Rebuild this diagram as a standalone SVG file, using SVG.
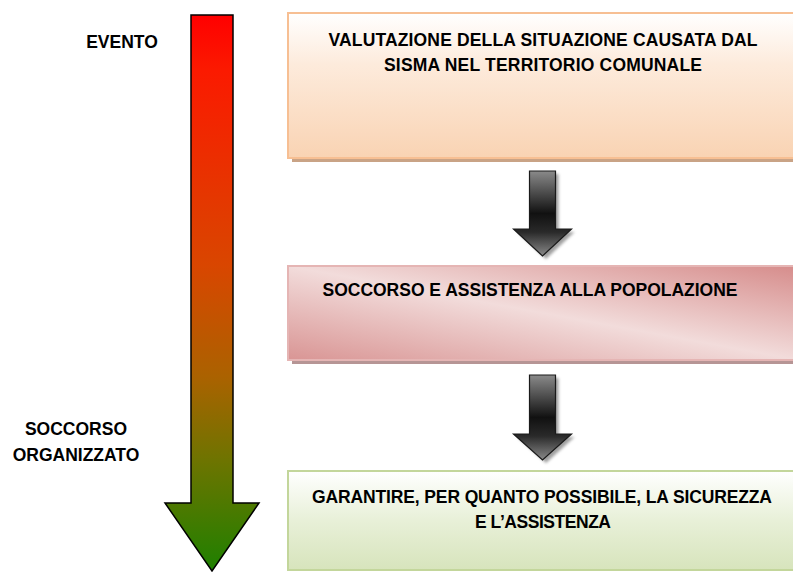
<svg xmlns="http://www.w3.org/2000/svg" width="793" height="572" viewBox="0 0 793 572">
<defs>
<linearGradient id="gBig" x1="0" y1="15" x2="0" y2="571" gradientUnits="userSpaceOnUse">
<stop offset="0" stop-color="#ff0000"/>
<stop offset="0.1" stop-color="#fb1a00"/>
<stop offset="0.45" stop-color="#d94600"/>
<stop offset="0.65" stop-color="#ab6200"/>
<stop offset="0.8" stop-color="#6e7400"/>
<stop offset="1" stop-color="#1e8000"/>
</linearGradient>
<linearGradient id="gSmall" x1="0" y1="0" x2="0" y2="1">
<stop offset="0" stop-color="#8a8a8a"/>
<stop offset="0.5" stop-color="#111111"/>
<stop offset="0.72" stop-color="#2a2a2a"/>
<stop offset="1" stop-color="#8a8a8a"/>
</linearGradient>
<linearGradient id="gOrange" x1="0" y1="0" x2="0" y2="1">
<stop offset="0" stop-color="#ffffff"/>
<stop offset="0.35" stop-color="#fdebdc"/>
<stop offset="1" stop-color="#f9d3b3"/>
</linearGradient>
<linearGradient id="gPink" x1="1" y1="0" x2="0" y2="1">
<stop offset="0" stop-color="#d68c8b"/>
<stop offset="0.5" stop-color="#f2dcdb"/>
<stop offset="1" stop-color="#d99594"/>
</linearGradient>
<linearGradient id="gGreen" x1="0" y1="0" x2="0" y2="1">
<stop offset="0" stop-color="#ffffff"/>
<stop offset="0.5" stop-color="#e8f0d8"/>
<stop offset="1" stop-color="#d7e4bc"/>
</linearGradient>
<filter id="blur" x="-20%" y="-20%" width="140%" height="140%">
<feGaussianBlur stdDeviation="1.5"/>
</filter>
</defs>
<style>
text{font-family:"Liberation Sans",Arial,sans-serif;font-weight:bold;font-size:17.5px;fill:#000;text-anchor:middle}
.box{stroke-width:2}
</style>

<g id="timeline">
<path d="M191,15 H233 V503 H259 L212,571 L165,503 H191 Z" fill="url(#gBig)" stroke="#000" stroke-width="1.5" stroke-linejoin="miter"/>
</g>

<g id="label-evento">
<text x="122" y="48">EVENTO</text>
</g>
<g id="label-soccorso">
<text x="76" y="435">SOCCORSO</text>
<text x="76" y="461">ORGANIZZATO</text>
</g>

<g id="node1">
<rect x="292" y="17" width="510" height="145" fill="#c9a386"/>
<rect class="box" x="288" y="13" width="510" height="145" fill="url(#gOrange)" stroke="#f7bf93"/>
<text x="543" y="46" textLength="429" lengthAdjust="spacing">VALUTAZIONE DELLA SITUAZIONE CAUSATA DAL</text>
<text x="543" y="71" textLength="318" lengthAdjust="spacing">SISMA NEL TERRITORIO COMUNALE</text>
</g>

<g id="node2">
<rect x="292" y="270" width="510" height="94" fill="#b69595"/>
<rect class="box" x="288" y="266" width="510" height="94" fill="url(#gPink)" stroke="#e5b5b4"/>
<text x="530" y="296" textLength="415" lengthAdjust="spacing">SOCCORSO E ASSISTENZA ALLA POPOLAZIONE</text>
</g>

<g id="node3">
<rect class="box" x="288" y="471" width="510" height="99" fill="url(#gGreen)" stroke="#c3d69b"/>
<text x="542" y="503" textLength="460" lengthAdjust="spacing">GARANTIRE, PER QUANTO POSSIBILE, LA SICUREZZA</text>
<text x="543" y="528" textLength="136" lengthAdjust="spacing">E L’ASSISTENZA</text>
</g>

<g id="connectors">
<path d="M532.5,174 H558.5 V232 H574.5 L546,259 L517.5,232 H532.5 Z" fill="#777" opacity="0.7" filter="url(#blur)"/>
<path d="M529.5,171 H555.5 V229 H571.5 L542.5,256 L513.5,229 H529.5 Z" fill="url(#gSmall)" stroke="#1a1a1a" stroke-width="1.2"/>
<path d="M532.5,378 H558.5 V437 H574.5 L546,463 L517.5,437 H532.5 Z" fill="#777" opacity="0.7" filter="url(#blur)"/>
<path d="M529.5,375 H555.5 V434 H571.5 L542.5,460 L513.5,434 H529.5 Z" fill="url(#gSmall)" stroke="#1a1a1a" stroke-width="1.2"/>
</g>
</svg>
